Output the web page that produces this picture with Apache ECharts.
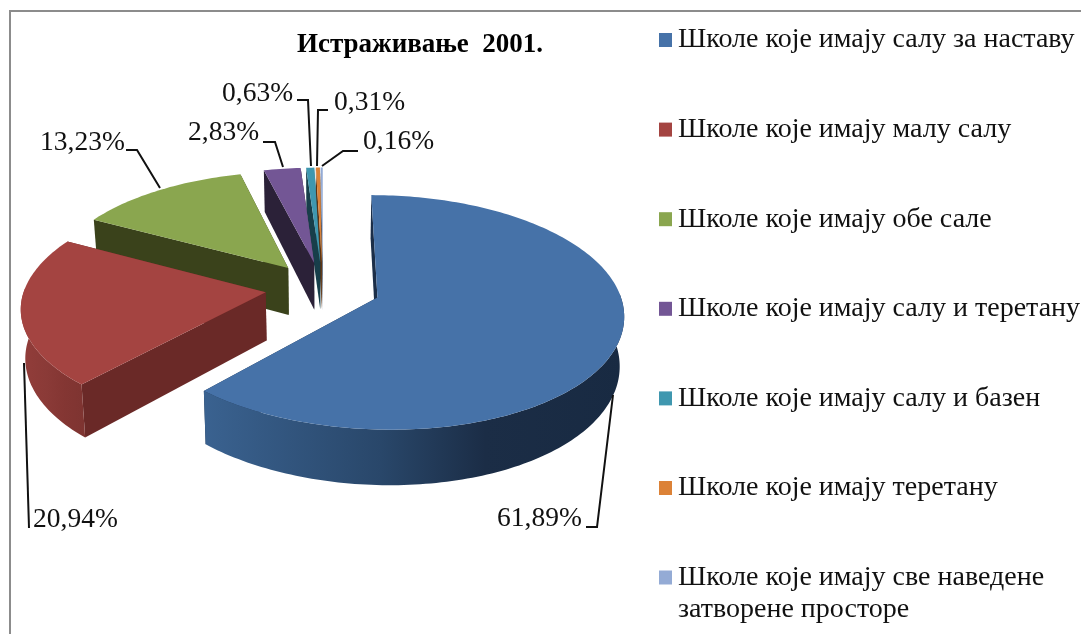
<!DOCTYPE html>
<html><head><meta charset="utf-8">
<style>html,body{margin:0;padding:0;background:#fff}#c{width:1081px;height:634px}</style>
<script src="https://cdn.jsdelivr.net/npm/echarts@6/dist/echarts.min.js"></script>
</head><body><div id="c"></div>
<script>
const chartTitle = 'Истраживање  2001.';
const categories = [
  'Школе које имају салу за наставу',
  'Школе које имају малу салу',
  'Школе које имају обе сале',
  'Школе које имају салу и теретану',
  'Школе које имају салу и базен',
  'Школе које имају теретану',
  'Школе које имају све наведене затворене просторе'
];
const shares = [61.89, 20.94, 13.23, 2.83, 0.63, 0.31, 0.16];

// styles
const topColors  = ['#4672A8', '#A44441', '#8AA64F', '#735695', '#3F97AF', '#DC8237', '#94ABD5'];
const sideColors = ['#1B2E48', '#6A2927', '#3A421B', '#2B2138', '#173E4A', '#5E3412', '#3C4A60'];
const wallStops  = [
  ['#3A6290', '#29476A', '#1B2D46', '#182A42'],
  ['#923D3A', '#8A3A37', '#843633', '#7E3431'],
  ['#3A421B', '#3A421B', '#3A421B', '#3A421B'],
  ['#2B2138', '#2B2138', '#2B2138', '#2B2138'],
  ['#173E4A', '#173E4A', '#173E4A', '#173E4A'],
  ['#5E3412', '#5E3412', '#5E3412', '#5E3412'],
  ['#3C4A60', '#3C4A60', '#3C4A60', '#3C4A60']
];
// leader lines + label anchors (layout only)
const labelLayout = [
  { at: [497, 519], line: [[586, 527], [597, 527], [613, 395]] },
  { at: [33, 520],  line: [[29, 528], [24, 363]] },
  { at: [40, 143],  line: [[126, 150], [137, 150], [160, 188]] },
  { at: [188, 133], line: [[263, 142], [275, 142], [283, 167]] },
  { at: [222, 94],  line: [[297, 100], [308, 100], [311, 166]] },
  { at: [334, 103], line: [[328, 110], [318, 110], [317, 166]] },
  { at: [363, 142], line: [[358, 151], [343, 151], [322, 166]] }
];

// projection of the tilted pie
const P = { x0: 323, y0: 288, c: 241, a: 113, b: 0.125, h: 48, explodeX: 0.24, explodeY: 0.23 };
const project = (X, Y) => {
  const s = 1 / (1 + P.b * Y);
  return [P.x0 + P.c * X * s + (Y < 0 ? 5 * Y * Y : 0), P.y0 - P.a * Y * s, s];
};
const lower = (X, Y) => {
  const p = project(X, Y);
  return [P.x0 + (p[0] - P.x0) * 0.985, p[1] + P.h * p[2]];
};
const total = shares.reduce((s, v) => s + v, 0);
const starts = shares.reduce((acc, v, i) => { acc.push(i ? acc[i - 1] + shares[i - 1] : 0); return acc; }, []);

function renderSlice(index, params, api) {
  const val = api.value(0);
  const t0 = starts[index] / total * Math.PI * 2;
  const t1 = t0 + val / total * Math.PI * 2;
  const m = (t0 + t1) / 2;
  const ox = P.explodeX * Math.sin(m), oy = P.explodeY * Math.cos(m);
  const at = t => [ox + Math.sin(t), oy + Math.cos(t)];
  const steps = Math.max(3, Math.ceil((t1 - t0) / 0.02));
  const arc = [];
  for (let i = 0; i <= steps; i++) arc.push(at(t0 + (t1 - t0) * i / steps));
  const up = q => project(q[0], q[1]).slice(0, 2);
  const dn = q => lower(q[0], q[1]);
  const apex = [ox, oy];
  const poly = (pts, fill) => ({ type: 'polygon', shape: { points: pts }, style: { fill: fill, stroke: null } });
  const kids = [];
  const a = arc[0], z = arc[arc.length - 1];
  kids.push(poly([up(apex), up(z), dn(z), dn(apex)], sideColors[index]));
  kids.push(poly([up(apex), up(a), dn(a), dn(apex)], sideColors[index]));
  const front = [];
  for (let i = 0; i <= steps; i++) {
    const t = t0 + (t1 - t0) * i / steps;
    if (Math.cos(t) < 0.05) front.push(arc[i]);
  }
  if (front.length > 1) {
    const st = wallStops[index];
    kids.push(poly(front.map(up).concat(front.slice().reverse().map(dn)), {
      type: 'linear', x: 0, y: 0, x2: 1, y2: 0,
      colorStops: [0, 0.42, 0.67, 1].map((o, i) => ({ offset: o, color: st[i] }))
    }));
  }
  kids.push(poly([up(apex)].concat(arc.map(up)), topColors[index]));
  const lay = labelLayout[index];
  kids.push({ type: 'polyline', shape: { points: lay.line }, style: { stroke: '#111', lineWidth: 2, fill: null } });
  kids.push({ type: 'text', x: lay.at[0], y: lay.at[1], style: {
    text: val.toFixed(2).replace('.', ',') + '%',
    font: '27.5px "Liberation Serif"', fill: '#111', verticalAlign: 'middle', align: 'left'
  } });
  return { type: 'group', children: kids };
}

const order = categories.map((_, i) => i).reverse();
const option = {
  animation: false,
  backgroundColor: '#fff',
  title: { text: chartTitle, left: 297, top: 32,
    textStyle: { fontFamily: 'Liberation Serif', fontSize: 27, fontWeight: 'bold', color: '#000' }, padding: 0 },
  legend: [
    { orient: 'vertical', left: 659, top: 21, padding: 0, itemGap: 51.6, itemWidth: 13, itemHeight: 14,
      icon: 'rect', selectedMode: false, data: categories.slice(0, 6),
      textStyle: { fontFamily: 'Liberation Serif', fontSize: 28, color: '#111', lineHeight: 30, padding: [8, 0, 0, 1] } },
    { orient: 'vertical', left: 659, top: 525.5, padding: 0, itemWidth: 13, itemHeight: 14,
      icon: 'rect', selectedMode: false, data: categories.slice(6),
      formatter: n => '\n' + n.replace('наведене ', 'наведене\n'),
      textStyle: { fontFamily: 'Liberation Serif', fontSize: 28, color: '#111', lineHeight: 32, padding: [8, 0, 0, 1] } }
  ],
  graphic: [
    { type: 'polyline', silent: true, z: -1, shape: { points: [[10, 634], [10, 11], [1081, 11]] },
      style: { stroke: '#8C8C8C', lineWidth: 2, fill: null } }
  ],
  series: order.map(i => ({
    type: 'custom', name: categories[i], coordinateSystem: 'none',
    itemStyle: { color: topColors[i] }, silent: true, clip: false,
    data: [[shares[i]]], renderItem: (p, api) => renderSlice(i, p, api)
  }))
};
const chart = echarts.init(document.getElementById('c'), null, { renderer: 'canvas' });
chart.setOption(option);
</script></body></html>
